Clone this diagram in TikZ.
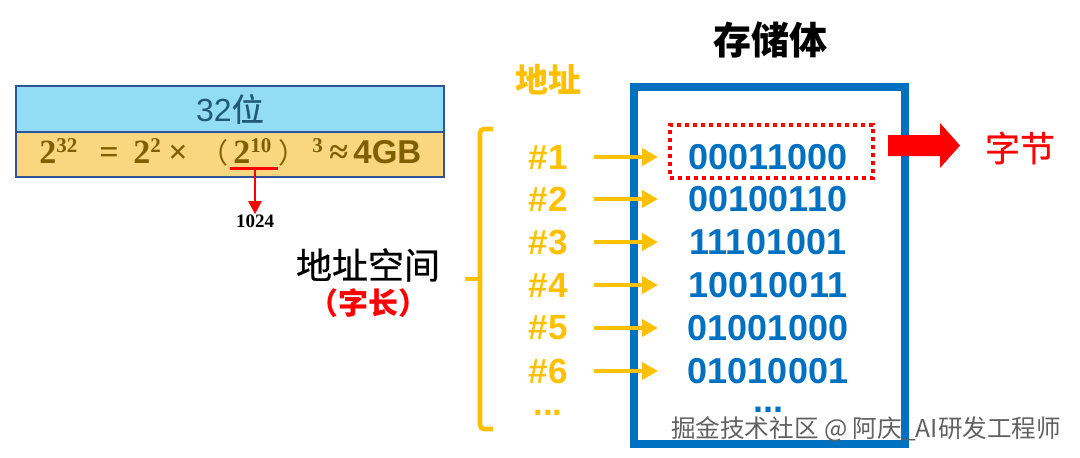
\RequirePackage{fix-cm}
\documentclass[tikz,border=0pt]{standalone}
\usepackage{fontspec}
\setmainfont{Liberation Sans}
\newfontfamily\cjk{Noto Sans CJK SC}
\newfontfamily\cjkm{Noto Sans CJK SC}[FakeBold=0.7]
\newfontfamily\serifb{Liberation Serif}
\usetikzlibrary{arrows.meta}
\definecolor{boxblue}{HTML}{0070C0}
\definecolor{addrorange}{HTML}{FFC000}
\definecolor{bandblue}{HTML}{93DCF5}
\definecolor{bandyellow}{HTML}{F9D67F}
\definecolor{bandline}{HTML}{2F5597}
\definecolor{formulabrown}{HTML}{7F6000}
\definecolor{titleteal}{HTML}{1E5A78}
\definecolor{selred}{HTML}{FF0000}
\newcommand\sups[1]{\raisebox{5.5pt}{\fontsize{10.5}{10.5}\selectfont #1}}
\tikzset{
  band/.style={draw=bandline, line width=0.8pt, minimum width=214pt, inner sep=0pt},
  fpart/.style={text=formulabrown, inner sep=0pt, anchor=base west, font=\serifb\bfseries\fontsize{17}{17}\selectfont},
  fparen/.style={text=formulabrown, inner sep=0pt, anchor=base west, font=\cjk\fontsize{14}{15}\selectfont},
  addrlabel/.style={text=addrorange, inner sep=0pt, font=\bfseries\fontsize{17.5}{18}\selectfont},
  bits/.style={text=boxblue, inner sep=0pt, font=\bfseries\fontsize{18}{18}\selectfont},
  dotsmark/.style={inner sep=0pt, anchor=base, text height=3pt, text depth=0pt},
  addrarrow/.style={draw=addrorange, line width=2pt, -{Triangle[length=8pt,width=8.5pt]},
    shorten <=23pt, shorten >=55pt},
}
\begin{document}
\begin{tikzpicture}[x=0.5pt,y=-0.5pt]
\path[use as bounding box] (0,0) rectangle (1080,457);

% table
\node[band, fill=bandblue, minimum height=23pt, text=titleteal, font=\fontsize{16}{17}\selectfont] (bits32) at (230,109) {32{\cjkm 位}};
\node[band, fill=bandyellow, minimum height=22.5pt] (formula) at (230,154.5) {};
\node[fpart] (f1) at (39,163) {2\sups{32}};
\node[fpart] (f2) at (99,163) {=};
\node[fpart] (f3) at (133,163) {2\sups{2}};
\node[fpart] (f4) at (168,163) {×};
\node[fparen] (f5) at (200,163) {（};
\node[fpart] (f6) at (233,163) {2\sups{10}};
\node[fparen] (f7) at (278,163) {）};
\node[fpart] (f8) at (312,163) {\sups{3}};
\node[fpart] (f9) at (329,163) {≈};
\node[fpart, font=\bfseries\fontsize{16.5}{17}\selectfont] (f10) at (353,163) {4GB};
\coordinate (u1) at (230,168);
\coordinate (u2) at (278,168);
\draw[selred, line width=1.5pt] (u1) -- (u2);
\node[inner sep=0pt, font=\serifb\bfseries\fontsize{9.5}{10}\selectfont] (k1024) at (255,221) {1024};
\coordinate (umid) at (255,168);
\draw[selred, line width=1.2pt, -{Triangle[length=6.5pt,width=6.5pt]}] (umid) -- (k1024.north);

% titles
\node[inner sep=0pt, font=\cjk\bfseries\fontsize{19}{19}\selectfont] (title) at (770,40) {存储体};
\node[inner sep=0pt, text=addrorange, font=\cjk\bfseries\fontsize{16.5}{17}\selectfont] (addr) at (548,80) {地址};

% memory box
\draw[boxblue, line width=4pt] (634,86.5) rectangle (905,443.5);

% brace
\draw[addrorange, line width=2.3pt, rounded corners=2pt] (493,129) -| (480,429) -- (493,429);
\draw[addrorange, line width=2.3pt] (465,279) -- (480,279);

% address space
\node[inner sep=0pt, font=\cjkm\fontsize{18}{19}\selectfont] (space) at (368,265) {地址空间};
\node[inner sep=0pt, text=selred, font=\cjk\bfseries\fontsize{15}{16}\selectfont] (wlen) at (368,303) {（字长）};

% addresses and bytes
\foreach \i/\y/\b in {1/157/00011000, 2/199/00100110, 3/242/11101001, 4/285/10010011, 5/328/01001000, 6/371/01010001}{
  \node[addrlabel] (a\i) at (548,\y) {\#\i};
  \node[bits] (b\i) at (768,\y) {\b};
  \draw[addrarrow] (a\i.center) -- (b\i.center);
}
\node[dotsmark, text=addrorange, font=\bfseries\fontsize{17.5}{18}\selectfont] (adots) at (548,415) {...};
\node[dotsmark, text=boxblue, font=\bfseries\fontsize{18}{18}\selectfont] (bdots) at (768,412) {...};

% selected byte
\node[draw=selred, line width=2pt, dash pattern=on 2pt off 2pt, minimum width=101.5pt, minimum height=26.5pt, inner sep=0pt] (sel) at (771.5,151.5) {};
\fill[selred] (888,135) -- (940,135) -- (940,123) -- (960,145.5) -- (940,168) -- (940,156) -- (888,156) -- cycle;
\node[inner sep=0pt, text=selred, font=\cjkm\fontsize{17.5}{18}\selectfont] (byte) at (1020,148) {字节};

% watermark
\node[inner sep=0pt, text=black!62, font=\cjk\fontsize{12.3}{13}\selectfont] (wm) at (866,429) {掘金技术社区 @ 阿庆\_AI研发工程师};
\end{tikzpicture}
\end{document}
